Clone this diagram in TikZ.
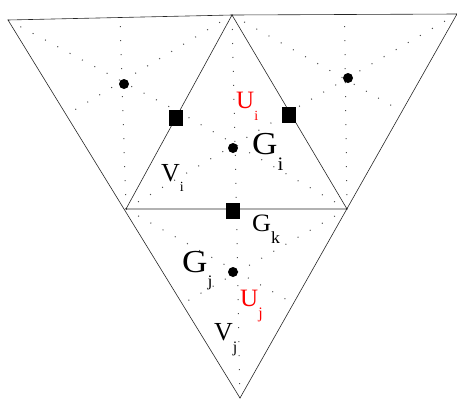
\documentclass[tikz,border=0pt]{standalone}
\usepackage{fontspec}
\setmainfont{Liberation Serif}
\usepackage{xcolor}
\usetikzlibrary{calc}

% letter, subscript, how far the subscript drops, subscript size
\newcommand{\sublab}[4]{#1\raisebox{-#3}{\fontsize{#4}{#4}\selectfont #2}}

\begin{document}
\begin{tikzpicture}[
  x=1pt, y=-1pt,
  edge/.style={draw=black!85, line width=0.6pt},
  median/.style={draw=black!70, line width=1pt, dash pattern=on 1pt off 13pt},
  ctr/.style={circle, fill=black, inner sep=0pt, minimum size=10pt},
  mid/.style={rectangle, fill=black, inner sep=0pt, minimum width=14pt, minimum height=16pt},
  lab/.style={anchor=base west, inner sep=0pt, font=\fontsize{26}{26}\selectfont}
]
\useasboundingbox (0,0) rectangle (457,400);

% vertices
\coordinate (tl) at (8,20);
\coordinate (tm) at (232,15);
\coordinate (tr) at (457,14);
\coordinate (ml) at (126,209);
\coordinate (mr) at (347,209);
\coordinate (bt) at (240,398);

% dotted medians of the four triangles
\foreach \a/\b/\c in {tl/tm/ml, tm/tr/mr, tm/ml/mr, ml/mr/bt}{
  \draw[median] (\a) -- ($(\b)!0.5!(\c)$);
  \draw[median] (\b) -- ($(\a)!0.5!(\c)$);
  \draw[median] (\c) -- ($(\a)!0.5!(\b)$);
}

% edges
\draw[edge] (tl) -- (tm) -- (tr) -- (bt) -- cycle;
\draw[edge] (tm) -- (ml) -- (mr) -- cycle;

% centres and edge points
\node[ctr] (cl) at (124,84) {};
\node[ctr] (cr) at (348,78) {};
\node[ctr] (ci) at (233,148) {};
\node[ctr] (cj) at (233,272) {};
\node[mid] (sl) at (176,118) {};
\node[mid] (sr) at (289,115) {};
\node[mid] (sk) at (233,211) {};

% labels
\node[lab, red, font=\fontsize{25}{25}\selectfont] (ui) at (236,108) {\sublab{U}{i}{12pt}{14}};
\node[lab, font=\fontsize{32}{32}\selectfont, xscale=1.1] (gi) at (252,154) {\sublab{G}{i}{16pt}{19}};
\node[lab] (vi) at (161,181) {\sublab{V}{i}{10pt}{14}};
\node[lab, font=\fontsize{25}{25}\selectfont, xscale=1.05] (gk) at (252,231) {\sublab{G}{k}{12pt}{17}};
\node[lab, font=\fontsize{32}{32}\selectfont, xscale=1.1] (gj) at (182,272) {\sublab{G}{j}{14pt}{16}};
\node[lab, red, font=\fontsize{25}{25}\selectfont] (uj) at (240,306) {\sublab{U}{j}{12pt}{16}};
\node[lab] (vj) at (214,340) {\sublab{V}{j}{12pt}{16}};
\end{tikzpicture}
\end{document}
